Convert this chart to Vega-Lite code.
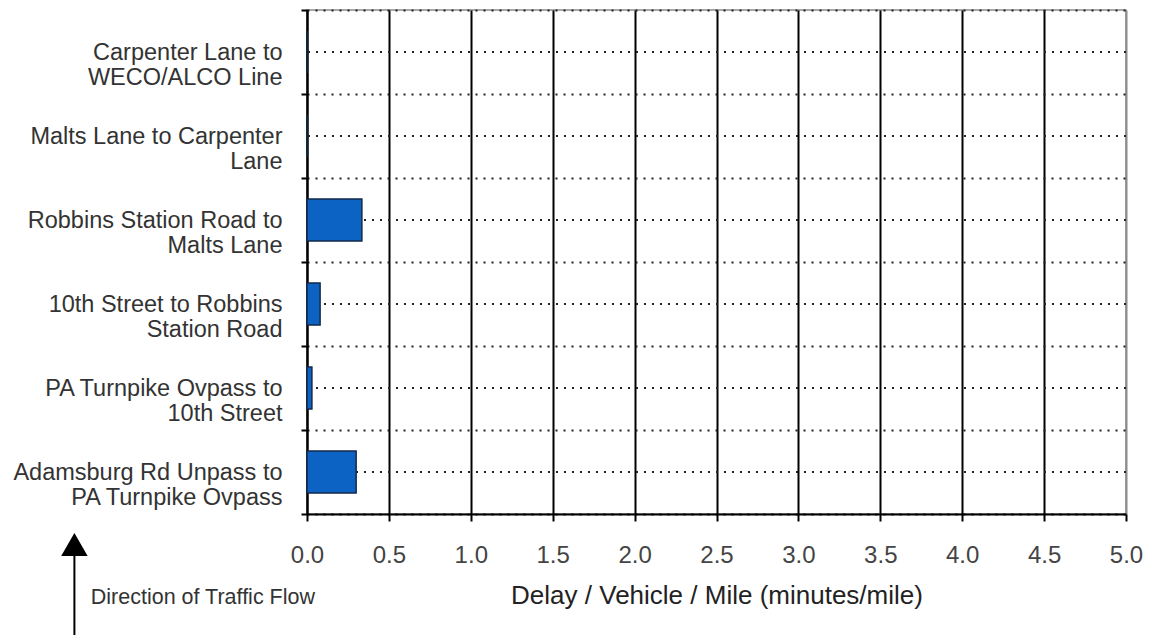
{
  "$schema": "https://vega.github.io/schema/vega-lite/v6.json",
  "width": 819,
  "height": 504,
  "autosize": {"type": "none"},
  "padding": {"left": 307, "top": 10, "right": 25, "bottom": 121},
  "background": "white",
  "config": {
    "view": {"stroke": "#8c8c8c", "strokeWidth": 1.5},
    "font": "Liberation Sans"
  },
  "layer": [
    {
      "data": {
        "values": [
          {"segment": "Carpenter Lane to|WECO/ALCO Line", "delay": 0},
          {"segment": "Malts Lane to Carpenter|Lane", "delay": 0},
          {"segment": "Robbins Station Road to|Malts Lane", "delay": 0.335},
          {"segment": "10th Street to Robbins|Station Road", "delay": 0.08},
          {"segment": "PA Turnpike Ovpass to|10th Street", "delay": 0.03},
          {"segment": "Adamsburg Rd Unpass to|PA Turnpike Ovpass", "delay": 0.3}
        ]
      },
      "layer": [
        {
          "mark": {"type": "rule", "strokeDash": [2, 6], "color": "#222222", "strokeWidth": 2},
          "encoding": {
            "y": {
              "field": "segment",
              "type": "nominal",
              "sort": null,
              "scale": {"paddingInner": 0, "paddingOuter": 0},
              "axis": {
                "title": null,
                "tickBand": "extent",
                "grid": true,
                "gridColor": "#222222",
                "gridDash": [2, 6],
                "gridWidth": 2,
                "domainColor": "black",
                "domainWidth": 2,
                "tickColor": "black",
                "tickWidth": 2,
                "tickSize": 6,
                "labelExpr": "split(datum.label, '|')",
                "labelFontSize": 23.5,
                "labelColor": "#333333",
                "labelLineHeight": 25,
                "labelPadding": 19,
                "labelLimit": 400
              }
            }
          }
        },
        {
          "mark": {"type": "bar", "color": "#0d63c4", "stroke": "#122a4a", "strokeWidth": 1.5, "height": {"band": 0.5}},
          "encoding": {
            "y": {"field": "segment", "type": "nominal", "sort": null},
            "x": {
              "field": "delay",
              "type": "quantitative",
              "scale": {"domain": [0, 5], "nice": false},
              "axis": {
                "title": "Delay / Vehicle / Mile (minutes/mile)",
                "values": [0, 0.5, 1, 1.5, 2, 2.5, 3, 3.5, 4, 4.5, 5],
                "format": ".1f",
                "grid": true,
                "gridColor": {"condition": {"test": "datum.value === 5", "value": "#8c8c8c"}, "value": "black"},
                "gridWidth": 2,
                "domainColor": "black",
                "domainWidth": 2,
                "tickColor": "black",
                "tickWidth": 2,
                "tickSize": 7,
                "labelFontSize": 24,
                "labelColor": "#444444",
                "labelPadding": 22,
                "labelFlush": false,
                "titleFontSize": 26,
                "titleFontWeight": "normal",
                "titleColor": "#222222",
                "titlePadding": 15
              }
            }
          }
        }
      ]
    },
    {
      "data": {"values": [{}]},
      "layer": [
        {
          "mark": {"type": "rule", "color": "black", "strokeWidth": 2},
          "encoding": {
            "x": {"datum": -1.42, "type": "quantitative"},
            "y": {"datum": -0.08, "type": "quantitative", "scale": {"domain": [0, 1], "nice": false}, "axis": null},
            "y2": {"datum": -0.3}
          }
        },
        {
          "mark": {"type": "point", "shape": "triangle-up", "filled": true, "color": "black", "size": 700, "opacity": 1},
          "encoding": {
            "x": {"datum": -1.42, "type": "quantitative"},
            "y": {"datum": -0.0605, "type": "quantitative"}
          }
        },
        {
          "mark": {"type": "text", "align": "left", "baseline": "middle", "fontSize": 21.5, "color": "#333333"},
          "encoding": {
            "x": {"datum": -1.32, "type": "quantitative"},
            "y": {"datum": -0.1667, "type": "quantitative"},
            "text": {"value": "Direction of Traffic Flow"}
          }
        }
      ]
    }
  ],
  "resolve": {"scale": {"y": "independent"}}
}
